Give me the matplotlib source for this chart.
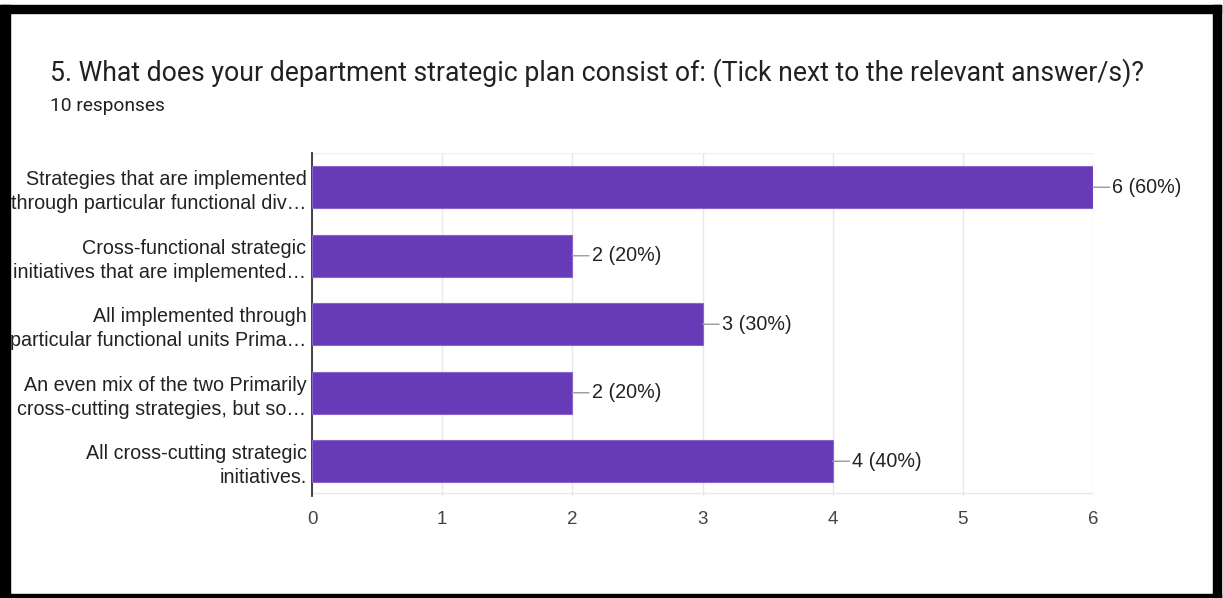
import matplotlib.pyplot as plt
from matplotlib.patches import Rectangle

title = "5. What does your department strategic plan consist of: (Tick next to the relevant answer/s)?"
subtitle = "10 responses"

categories = [
    "Strategies that are implemented\nthrough particular functional div\u2026",
    "Cross-functional strategic\ninitiatives that are implemented\u2026",
    "All implemented through\nparticular functional units Prima\u2026",
    "An even mix of the two Primarily\ncross-cutting strategies, but so\u2026",
    "All cross-cutting strategic\ninitiatives.",
]
counts = [6, 2, 3, 2, 4]
total = 10
x_ticks = [0, 1, 2, 3, 4, 5, 6]

BAR = "#673ab7"
W, H = 1223, 598

fig = plt.figure(figsize=(W / 100, H / 100), dpi=100)
fig.patch.set_facecolor("white")

# black frame round the card
for x0, y0, w, h in [(0, 5, 10, 593), (0, 5, 1221, 8), (1213, 5, 8, 593), (0, 594, 1221, 4)]:
    fig.add_artist(Rectangle((x0 / W, 1 - (y0 + h) / H), w / W, h / H,
                             transform=fig.transFigure, color="black", zorder=10))

fig.text(50 / W, 1 - 73 / H, title, fontsize=19.2, family="Roboto", color="#202124",
         va="center", ha="left")
fig.text(50 / W, 1 - 106 / H, subtitle, fontsize=13.8, family="Roboto", color="#202124",
         va="center", ha="left")

left, right, top, bottom = 312, 1093, 153, 495.5
ax = fig.add_axes([left / W, 1 - bottom / H, (right - left) / W, (bottom - top) / H])

y = list(range(len(categories)))
ax.barh(y, counts, height=0.62, color=BAR, edgecolor="#8a66cc", linewidth=0.8, zorder=3)
ax.set_xlim(0, 6)
ax.set_ylim(len(categories) - 0.5, -0.5)

ax.set_yticks(y)
ax.set_yticklabels(categories, family="Liberation Sans", fontsize=14.2, color="#222222",
                   linespacing=1.32)
ax.set_xticks(x_ticks)
ax.set_xticklabels([str(t) for t in x_ticks], family="Liberation Sans", fontsize=13.5,
                   color="#444444")
ax.tick_params(axis="y", length=0, pad=4)
ax.tick_params(axis="x", length=0, pad=11)

ax.grid(axis="x", color="#e8e8e8", lw=1, zorder=0)
for s in ["top", "right", "bottom"]:
    ax.spines[s].set_visible(False)
ax.axhline(len(categories) - 0.5 - 0.03, color="#e8e8e8", lw=1, zorder=0)
ax.axhline(-0.5, color="#eeeeee", lw=1, zorder=0)
ax.spines["left"].set_color("#333333")
ax.spines["left"].set_linewidth(1.3)

for yi, c in zip(y, counts):
    ax.annotate(f"{c} ({c / total:.0%})", xy=(c, yi), xytext=(14, 0),
                textcoords="offset points", ha="left", va="center",
                family="Liberation Sans", fontsize=14.2, color="#222222",
                arrowprops=dict(arrowstyle="-", color="#9a9a9a", lw=1,
                                shrinkA=0, shrinkB=0))

fig.savefig("out.png", dpi=100)
